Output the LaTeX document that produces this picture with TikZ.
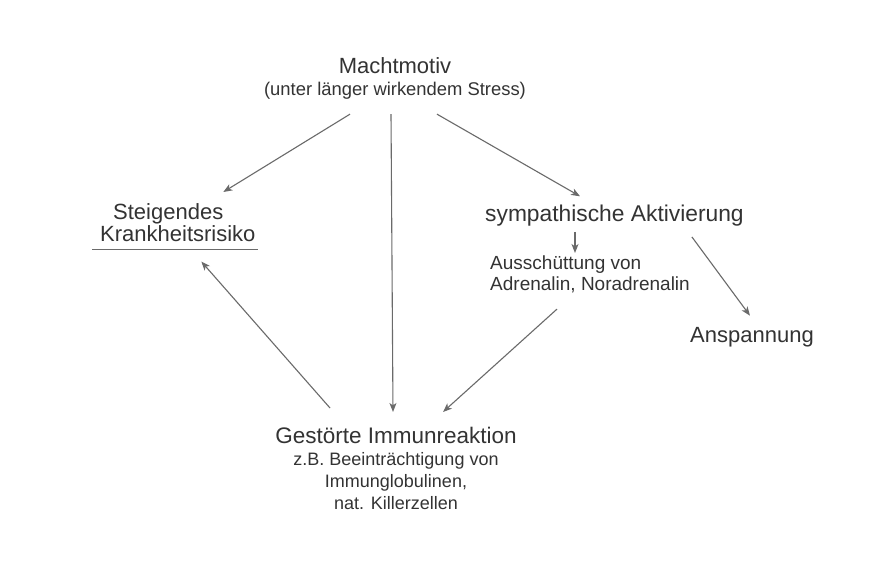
\documentclass[tikz,border=0pt]{standalone}
\usepackage{fontspec}
\setmainfont{Liberation Sans}
\usetikzlibrary{arrows.meta}
\definecolor{inkgray}{HTML}{333333}
\definecolor{pengray}{HTML}{6A6A6A}
\begin{document}
\begin{tikzpicture}
  [x=1pt,y=-1pt,every node/.style={inner sep=0pt,text=inkgray},
   big/.style={font=\fontsize{22}{22}\selectfont},
   small/.style={font=\fontsize{19}{20.5}\selectfont},
   arr/.style={draw=pengray,line width=1.1pt,-{Stealth[length=9pt,width=7pt,inset=2.5pt]}}]
  \useasboundingbox[fill=white] (0,0) rectangle (879,572);
  \node[anchor=north,align=center,font=\fontsize{18.4}{22}\selectfont] (macht) at (395,57)
    {{\fontsize{22}{22}\selectfont Machtmotiv}\\
     (unter länger wirkendem Stress)};
  \node[big,anchor=north west,align=left] (steig) at (100,203)
    {\hspace{13pt}Steigendes\\Krankheitsrisiko};
  \node[anchor=base west,font=\fontsize{22.8}{22}\selectfont] (sympa) at (485,222) {sympathische Aktivierung};
  \node[small,anchor=north west,align=left] (adren) at (490,256)
    {Ausschüttung von\\Adrenalin, Noradrenalin};
  \node[big,anchor=base west] (ansp) at (690,342) {Anspannung};
  \node[anchor=north,align=center,font=\fontsize{18}{22}\selectfont] (immun) at (396,427)
    {{\fontsize{22.5}{22}\selectfont Gestörte Immunreaktion}\\
     z.B. Beeinträchtigung von\\
     Immunglobulinen,\\
     nat. Killerzellen};

 \draw[pengray,line width=1.1pt] ([shift={(-8,8)}]steig.south west) -- ([shift={(2,8)}]steig.south east);
 \path[every edge/.style={arr}]
        ([shift={(-45,15)}]macht.south) edge ([shift={(45.5,-11)}]steig.north)
        ([shift={(-4,15)}]macht.south) edge ([shift={(-3,-15)}]immun.north)
        ([shift={(42,15)}]macht.south) edge ([shift={(95,-9)}]sympa.north west)
        ([shift={(90,5)}]sympa.south west) edge ([shift={(85,-3)}]adren.north west)
        ([shift={(-52,10)}]sympa.south east) edge ([shift={(-2,-11)}]ansp.north)
        ([shift={(67,16)}]adren.south west) edge ([shift={(47,-15)}]immun.north)
        ([shift={(-66,-19)}]immun.north) edge ([shift={(23.5,20)}]steig.south);

\end{tikzpicture}
\end{document}
